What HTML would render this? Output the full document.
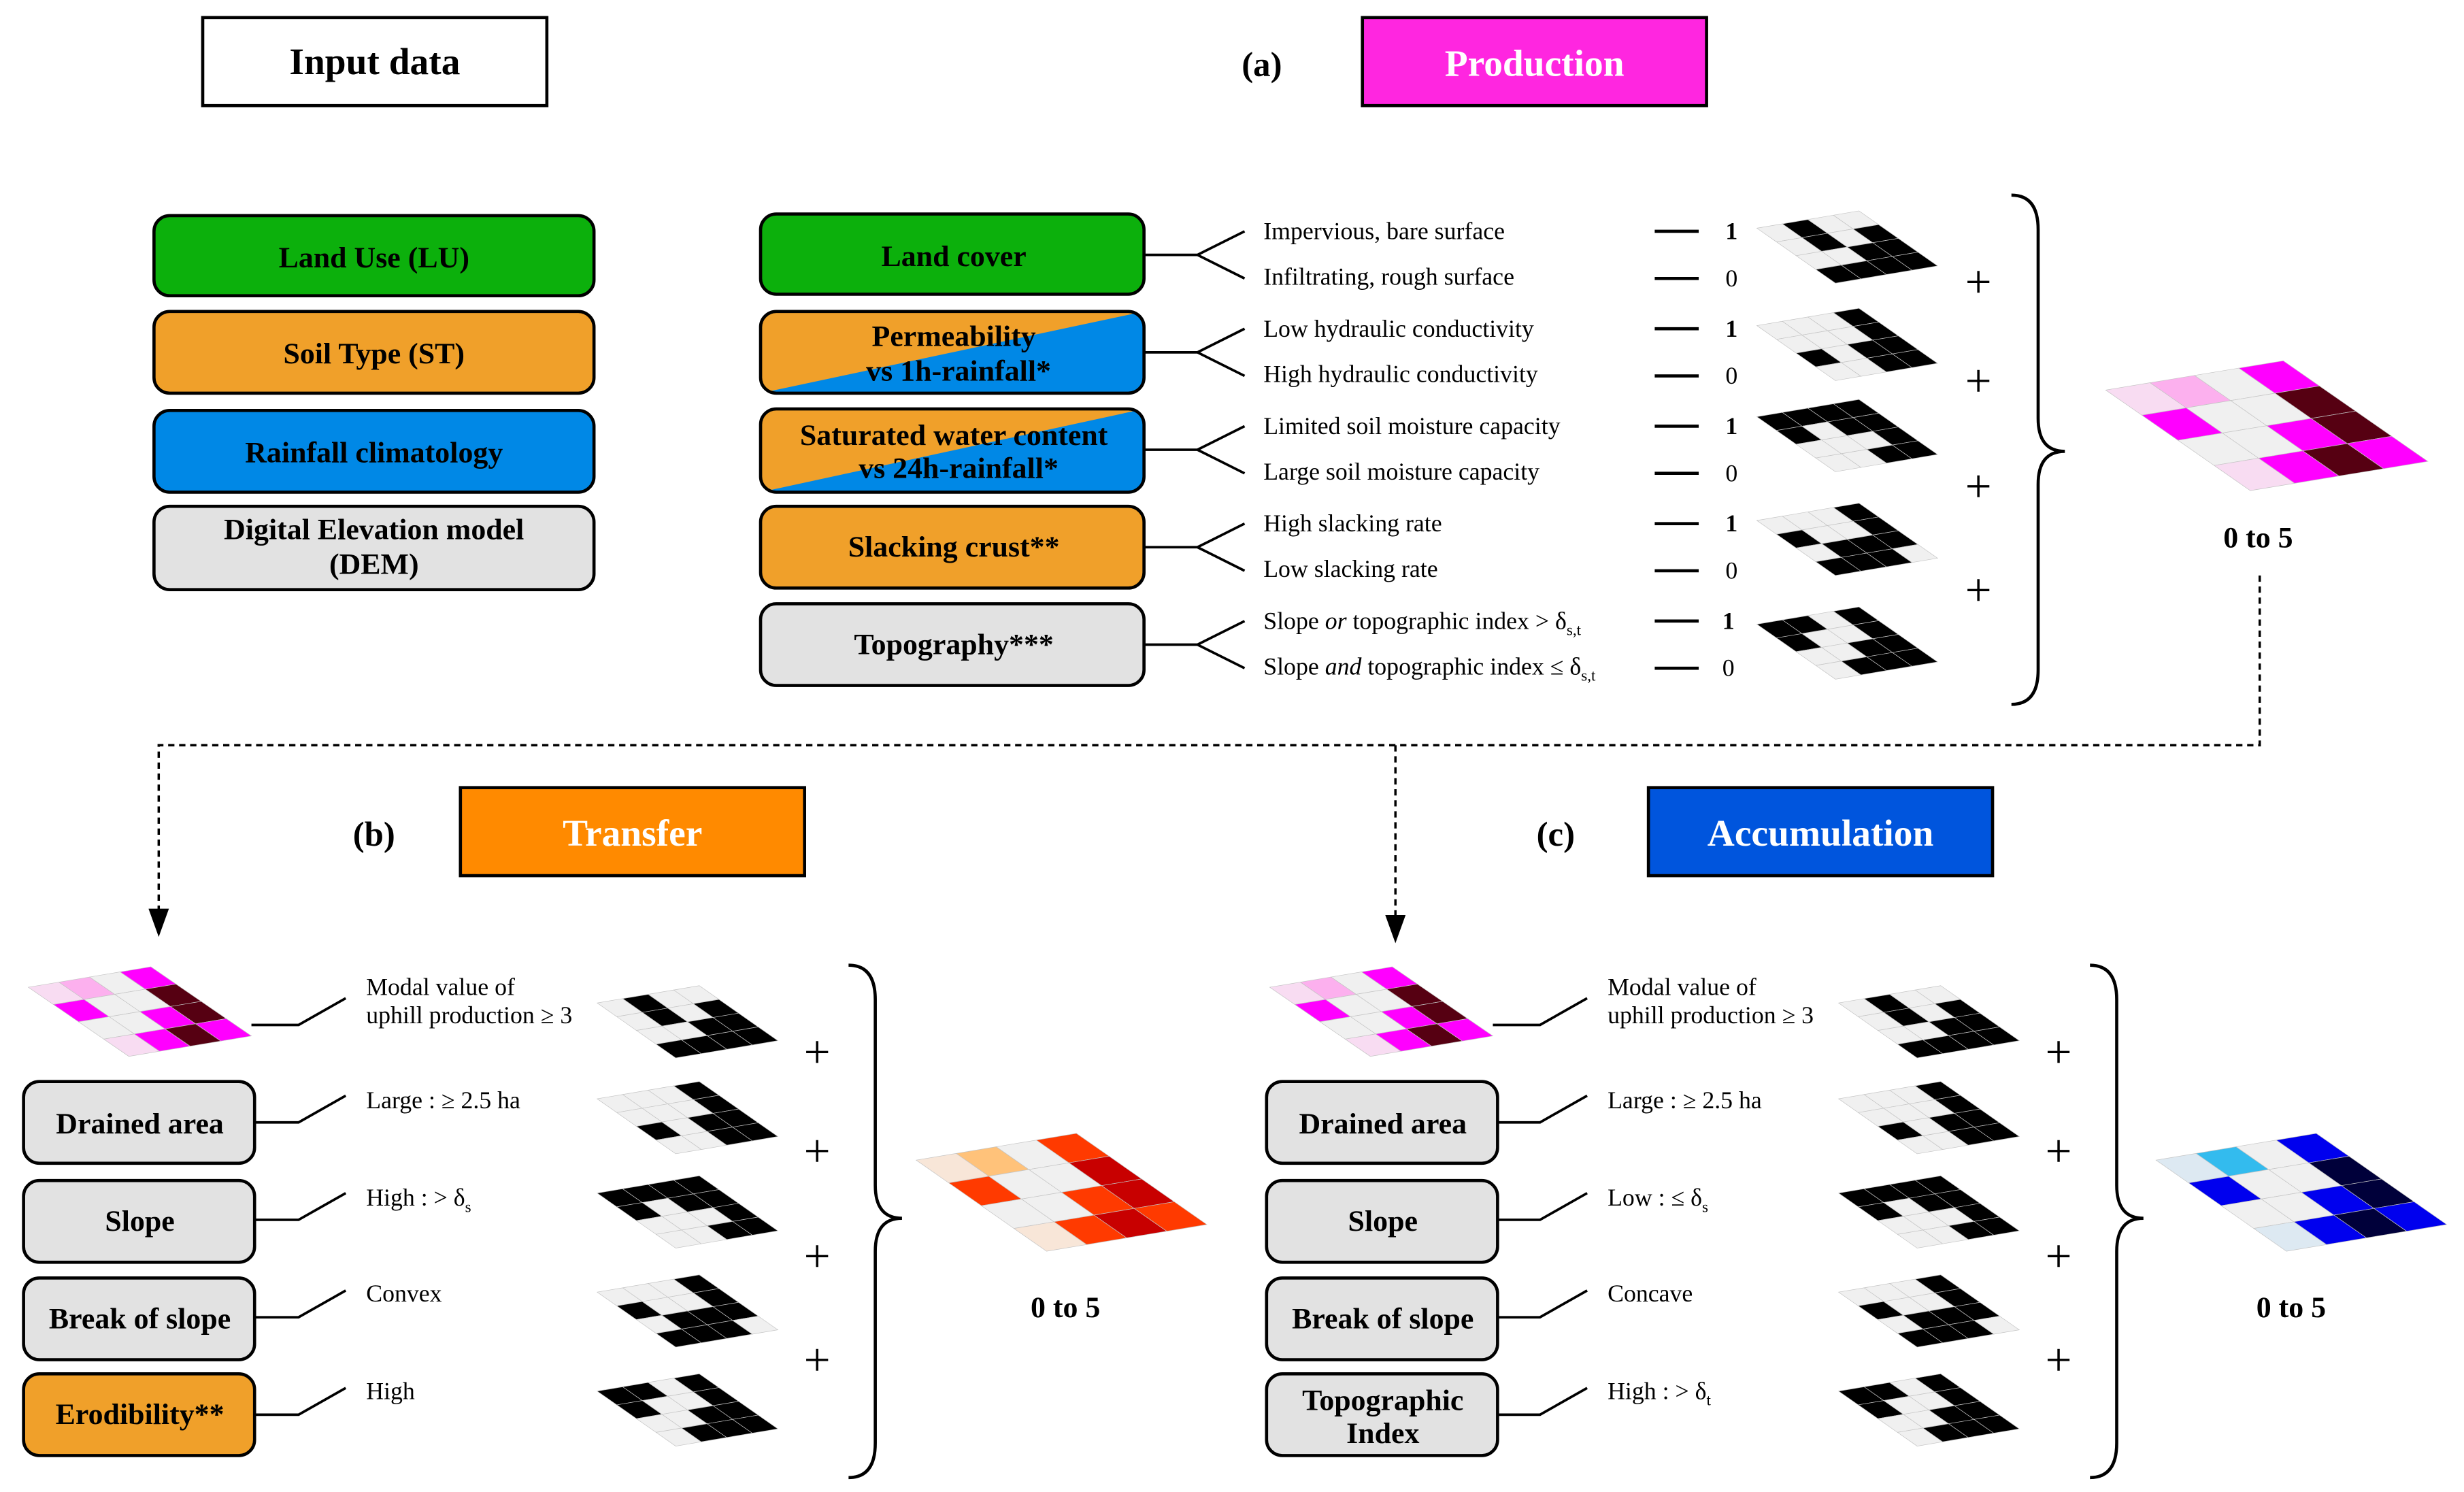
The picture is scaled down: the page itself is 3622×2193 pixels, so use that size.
<!DOCTYPE html>
<html><head><meta charset="utf-8"><style>
html,body{margin:0;padding:0;background:#fff}
svg{display:block}
svg, text, tspan{font-family:"Liberation Serif","Times New Roman",serif}
text{fill:#000}
.b{font-weight:bold}
.d{font-size:15.5px}
.bl{font-size:19px;font-weight:bold}
.t{font-size:24px;font-weight:bold}
.cell rect{stroke:#c4c4c4;stroke-width:0.7;vector-effect:non-scaling-stroke}
</style></head><body>
<svg width="3622" height="2193" viewBox="0 0 1568 949" xmlns="http://www.w3.org/2000/svg" font-family="Liberation Serif, serif">
<defs>
<g id="A" class="cell">
<rect x="0" y="0" width="1" height="1" fill="#f0f0f0"/><rect x="1" y="0" width="1" height="1" fill="#000"/><rect x="2" y="0" width="1" height="1" fill="#f0f0f0"/><rect x="3" y="0" width="1" height="1" fill="#f0f0f0"/>
<rect x="0" y="1" width="1" height="1" fill="#f0f0f0"/><rect x="1" y="1" width="1" height="1" fill="#000"/><rect x="2" y="1" width="1" height="1" fill="#f0f0f0"/><rect x="3" y="1" width="1" height="1" fill="#000"/>
<rect x="0" y="2" width="1" height="1" fill="#f0f0f0"/><rect x="1" y="2" width="1" height="1" fill="#f0f0f0"/><rect x="2" y="2" width="1" height="1" fill="#000"/><rect x="3" y="2" width="1" height="1" fill="#000"/>
<rect x="0" y="3" width="1" height="1" fill="#000"/><rect x="1" y="3" width="1" height="1" fill="#000"/><rect x="2" y="3" width="1" height="1" fill="#000"/><rect x="3" y="3" width="1" height="1" fill="#000"/>
</g>
<g id="B" class="cell">
<rect x="0" y="0" width="1" height="1" fill="#f0f0f0"/><rect x="1" y="0" width="1" height="1" fill="#f0f0f0"/><rect x="2" y="0" width="1" height="1" fill="#f0f0f0"/><rect x="3" y="0" width="1" height="1" fill="#000"/>
<rect x="0" y="1" width="1" height="1" fill="#f0f0f0"/><rect x="1" y="1" width="1" height="1" fill="#f0f0f0"/><rect x="2" y="1" width="1" height="1" fill="#f0f0f0"/><rect x="3" y="1" width="1" height="1" fill="#000"/>
<rect x="0" y="2" width="1" height="1" fill="#000"/><rect x="1" y="2" width="1" height="1" fill="#f0f0f0"/><rect x="2" y="2" width="1" height="1" fill="#000"/><rect x="3" y="2" width="1" height="1" fill="#000"/>
<rect x="0" y="3" width="1" height="1" fill="#f0f0f0"/><rect x="1" y="3" width="1" height="1" fill="#f0f0f0"/><rect x="2" y="3" width="1" height="1" fill="#000"/><rect x="3" y="3" width="1" height="1" fill="#000"/>
</g>
<g id="C" class="cell">
<rect x="0" y="0" width="1" height="1" fill="#000"/><rect x="1" y="0" width="1" height="1" fill="#000"/><rect x="2" y="0" width="1" height="1" fill="#000"/><rect x="3" y="0" width="1" height="1" fill="#000"/>
<rect x="0" y="1" width="1" height="1" fill="#000"/><rect x="1" y="1" width="1" height="1" fill="#f0f0f0"/><rect x="2" y="1" width="1" height="1" fill="#000"/><rect x="3" y="1" width="1" height="1" fill="#000"/>
<rect x="0" y="2" width="1" height="1" fill="#f0f0f0"/><rect x="1" y="2" width="1" height="1" fill="#f0f0f0"/><rect x="2" y="2" width="1" height="1" fill="#f0f0f0"/><rect x="3" y="2" width="1" height="1" fill="#000"/>
<rect x="0" y="3" width="1" height="1" fill="#f0f0f0"/><rect x="1" y="3" width="1" height="1" fill="#f0f0f0"/><rect x="2" y="3" width="1" height="1" fill="#000"/><rect x="3" y="3" width="1" height="1" fill="#000"/>
</g>
<g id="D" class="cell">
<rect x="0" y="0" width="1" height="1" fill="#f0f0f0"/><rect x="1" y="0" width="1" height="1" fill="#f0f0f0"/><rect x="2" y="0" width="1" height="1" fill="#f0f0f0"/><rect x="3" y="0" width="1" height="1" fill="#000"/>
<rect x="0" y="1" width="1" height="1" fill="#000"/><rect x="1" y="1" width="1" height="1" fill="#f0f0f0"/><rect x="2" y="1" width="1" height="1" fill="#f0f0f0"/><rect x="3" y="1" width="1" height="1" fill="#000"/>
<rect x="0" y="2" width="1" height="1" fill="#f0f0f0"/><rect x="1" y="2" width="1" height="1" fill="#000"/><rect x="2" y="2" width="1" height="1" fill="#000"/><rect x="3" y="2" width="1" height="1" fill="#000"/>
<rect x="0" y="3" width="1" height="1" fill="#000"/><rect x="1" y="3" width="1" height="1" fill="#000"/><rect x="2" y="3" width="1" height="1" fill="#000"/><rect x="3" y="3" width="1" height="1" fill="#f0f0f0"/>
</g>
<g id="E" class="cell">
<rect x="0" y="0" width="1" height="1" fill="#000"/><rect x="1" y="0" width="1" height="1" fill="#000"/><rect x="2" y="0" width="1" height="1" fill="#f0f0f0"/><rect x="3" y="0" width="1" height="1" fill="#000"/>
<rect x="0" y="1" width="1" height="1" fill="#000"/><rect x="1" y="1" width="1" height="1" fill="#f0f0f0"/><rect x="2" y="1" width="1" height="1" fill="#f0f0f0"/><rect x="3" y="1" width="1" height="1" fill="#000"/>
<rect x="0" y="2" width="1" height="1" fill="#f0f0f0"/><rect x="1" y="2" width="1" height="1" fill="#f0f0f0"/><rect x="2" y="2" width="1" height="1" fill="#000"/><rect x="3" y="2" width="1" height="1" fill="#000"/>
<rect x="0" y="3" width="1" height="1" fill="#f0f0f0"/><rect x="1" y="3" width="1" height="1" fill="#000"/><rect x="2" y="3" width="1" height="1" fill="#000"/><rect x="3" y="3" width="1" height="1" fill="#000"/>
</g>
<g id="M" class="cell">
<rect x="0" y="0" width="1" height="1" fill="var(--c0)"/><rect x="1" y="0" width="1" height="1" fill="var(--c1)"/><rect x="2" y="0" width="1" height="1" fill="#f0f0f0"/><rect x="3" y="0" width="1" height="1" fill="var(--c3)"/>
<rect x="0" y="1" width="1" height="1" fill="var(--c3)"/><rect x="1" y="1" width="1" height="1" fill="#f0f0f0"/><rect x="2" y="1" width="1" height="1" fill="#f0f0f0"/><rect x="3" y="1" width="1" height="1" fill="var(--c4)"/>
<rect x="0" y="2" width="1" height="1" fill="#f0f0f0"/><rect x="1" y="2" width="1" height="1" fill="#f0f0f0"/><rect x="2" y="2" width="1" height="1" fill="var(--c3)"/><rect x="3" y="2" width="1" height="1" fill="var(--c4)"/>
<rect x="0" y="3" width="1" height="1" fill="var(--c0)"/><rect x="1" y="3" width="1" height="1" fill="var(--c3)"/><rect x="2" y="3" width="1" height="1" fill="var(--c4)"/><rect x="3" y="3" width="1" height="1" fill="var(--c3)"/>
</g>
<clipPath id="cp1"><rect x="484" y="198" width="244" height="52" rx="10"/></clipPath>
<clipPath id="cp2"><rect x="484" y="260" width="244" height="53" rx="10"/></clipPath>
<marker id="ar" viewBox="0 0 10 10" refX="10" refY="5" markerWidth="18" markerHeight="13" markerUnits="userSpaceOnUse" preserveAspectRatio="none" orient="auto"><path d="M0,0 L10,5 L0,10 z" fill="#000"/></marker>
</defs>

<rect x="129" y="11" width="219" height="56" fill="#fff" stroke="#000" stroke-width="2"/>
<text x="238.5" y="47" class="t" text-anchor="middle">Input data</text>
<text x="803" y="48" class="t" text-anchor="middle" style="font-size:22px">(a)</text>
<rect x="867" y="11" width="219" height="56" fill="#ff26e0" stroke="#000" stroke-width="2"/>
<text x="976.5" y="48" class="t" text-anchor="middle" style="fill:#fff">Production</text>

<g stroke="#000" stroke-width="2">
<rect x="98" y="137" width="280" height="51" rx="10" fill="#0cb00c"/>
<rect x="98" y="198" width="280" height="52" rx="10" fill="#f0a02a"/>
<rect x="98" y="261" width="280" height="52" rx="10" fill="#0088e6"/>
<rect x="98" y="322" width="280" height="53" rx="10" fill="#e2e2e2"/>
</g>
<text x="238" y="170" class="bl" text-anchor="middle">Land Use (LU)</text>
<text x="238" y="231" class="bl" text-anchor="middle">Soil Type (ST)</text>
<text x="238" y="294" class="bl" text-anchor="middle">Rainfall climatology</text>
<text x="238" y="343" class="bl" text-anchor="middle">Digital Elevation model</text>
<text x="238" y="365" class="bl" text-anchor="middle">(DEM)</text>

<rect x="484" y="136" width="244" height="51" rx="10" fill="#0cb00c" stroke="#000" stroke-width="2"/>
<g clip-path="url(#cp1)"><rect x="484" y="198" width="244" height="52" fill="#f0a02a"/><polygon points="484,250 728,198 728,250" fill="#0088e6"/></g>
<rect x="484" y="198" width="244" height="52" rx="10" fill="none" stroke="#000" stroke-width="2"/>
<g clip-path="url(#cp2)"><rect x="484" y="260" width="244" height="53" fill="#f0a02a"/><polygon points="484,313 728,260 728,313" fill="#0088e6"/></g>
<rect x="484" y="260" width="244" height="53" rx="10" fill="none" stroke="#000" stroke-width="2"/>
<rect x="484" y="322" width="244" height="52" rx="10" fill="#f0a02a" stroke="#000" stroke-width="2"/>
<rect x="484" y="384" width="244" height="52" rx="10" fill="#e2e2e2" stroke="#000" stroke-width="2"/>
<text x="607" y="169" class="bl" text-anchor="middle">Land cover</text>
<text x="607" y="220" class="bl" text-anchor="middle">Permeability</text>
<text x="610" y="242" class="bl" text-anchor="middle">vs 1h-rainfall*</text>
<text x="607" y="283" class="bl" text-anchor="middle">Saturated water content</text>
<text x="610" y="304" class="bl" text-anchor="middle">vs 24h-rainfall*</text>
<text x="607" y="354" class="bl" text-anchor="middle">Slacking crust**</text>
<text x="607" y="416" class="bl" text-anchor="middle">Topography***</text>

<g fill="none" stroke="#000" stroke-width="1.6">
<path d="M728,162 H762 L792,147 M762,162 L792,177"/>
<path d="M728,224 H762 L792,209 M762,224 L792,239"/>
<path d="M728,286 H762 L792,271 M762,286 L792,301"/>
<path d="M728,348 H762 L792,333 M762,348 L792,363"/>
<path d="M728,410 H762 L792,395 M762,410 L792,425"/>
<path d="M1053,147 H1081 M1053,177 H1081 M1053,209 H1081 M1053,239 H1081 M1053,271 H1081 M1053,301 H1081 M1053,333 H1081 M1053,363 H1081 M1053,395 H1081 M1053,425 H1081" stroke-width="2"/>
</g>
<g class="d">
<text x="804" y="152">Impervious, bare surface</text>
<text x="804" y="181">Infiltrating, rough surface</text>
<text x="804" y="214">Low hydraulic conductivity</text>
<text x="804" y="243">High hydraulic conductivity</text>
<text x="804" y="276">Limited soil moisture capacity</text>
<text x="804" y="305">Large soil moisture capacity</text>
<text x="804" y="338">High slacking rate</text>
<text x="804" y="367">Low slacking rate</text>
<text x="804" y="400">Slope <tspan font-style="italic">or</tspan> topographic index &gt; δ<tspan font-size="10" dy="4">s,t</tspan></text>
<text x="804" y="429">Slope <tspan font-style="italic">and</tspan> topographic index ≤ δ<tspan font-size="10" dy="4">s,t</tspan></text>
</g>
<g class="d">
<text x="1098" y="152" class="b">1</text><text x="1098" y="182">0</text>
<text x="1098" y="214" class="b">1</text><text x="1098" y="244">0</text>
<text x="1098" y="276" class="b">1</text><text x="1098" y="306">0</text>
<text x="1098" y="338" class="b">1</text><text x="1098" y="368">0</text>
<text x="1096" y="400" class="b">1</text><text x="1096" y="430">0</text>
</g>
<use href="#A" transform="matrix(16.25 -2.75 12.5 8.75 1118 145)"/>
<use href="#B" transform="matrix(16.25 -2.75 12.5 8.75 1118 207)"/>
<use href="#C" transform="matrix(16.25 -2.75 12.5 8.75 1118 265)"/>
<use href="#D" transform="matrix(16.25 -2.75 12.5 8.75 1118 331)"/>
<use href="#E" transform="matrix(16.25 -2.75 12.5 8.75 1118 397)"/>
<g font-size="30" text-anchor="middle">
<text x="1259" y="189">+</text>
<text x="1259" y="252">+</text>
<text x="1259" y="319">+</text>
<text x="1259" y="385">+</text>
</g>
<path d="M1280,124 Q1297,124 1297,146 L1297,266 Q1297,287 1314,287 Q1297,287 1297,308 L1297,426 Q1297,448 1280,448" fill="none" stroke="#000" stroke-width="2"/>
<use href="#M" transform="matrix(28.25 -4.65 23 16 1340 248)" style="--c0:#f8dcf2;--c1:#fcb0ee;--c3:#ff00ff;--c4:#560012"/>
<text x="1437" y="348" class="bl" text-anchor="middle">0 to 5</text>

<g fill="none" stroke="#000" stroke-width="1.5" stroke-dasharray="4,3">
<path d="M1438,366 V474 H101 V596" marker-end="url(#ar)"/>
<path d="M888,474 V600" marker-end="url(#ar)"/>
</g>

<text x="238" y="538" class="t" text-anchor="middle" style="font-size:22px">(b)</text>
<rect x="293" y="501" width="219" height="56" fill="#ff8a00" stroke="#000" stroke-width="2"/>
<text x="402.5" y="538" class="t" text-anchor="middle" style="fill:#fff">Transfer</text>
<text x="990" y="538" class="t" text-anchor="middle" style="font-size:22px">(c)</text>
<rect x="1049" y="501" width="219" height="56" fill="#0055dd" stroke="#000" stroke-width="2"/>
<text x="1158.5" y="538" class="t" text-anchor="middle" style="fill:#fff">Accumulation</text>

<g id="sec">
<use href="#M" transform="matrix(19.5 -3.25 16 11 18 628)" style="--c0:#f8dcf2;--c1:#fcb0ee;--c3:#ff00ff;--c4:#560012"/>
<g fill="none" stroke="#000" stroke-width="1.6">
<path d="M160,652 H190 L220,635"/>
<path d="M162,714 H190 L220,697"/>
<path d="M162,776 H190 L220,759"/>
<path d="M162,838 H190 L220,821"/>
<path d="M162,900 H190 L220,883"/>
</g>
<use href="#A" transform="matrix(16.25 -2.75 12.5 8.75 380 638)"/>
<use href="#B" transform="matrix(16.25 -2.75 12.5 8.75 380 699)"/>
<use href="#C" transform="matrix(16.25 -2.75 12.5 8.75 380 759)"/>
<use href="#D" transform="matrix(16.25 -2.75 12.5 8.75 380 822)"/>
<use href="#E" transform="matrix(16.25 -2.75 12.5 8.75 380 885)"/>
<text x="520" y="679" font-size="30" text-anchor="middle">+</text>
<text x="520" y="742" font-size="30" text-anchor="middle">+</text>
<text x="520" y="809" font-size="30" text-anchor="middle">+</text>
<text x="520" y="875" font-size="30" text-anchor="middle">+</text>
<path d="M540,614 Q557,614 557,636 L557,754 Q557,775 574,775 Q557,775 557,796 L557,918 Q557,940 540,940" fill="none" stroke="#000" stroke-width="2"/>
<text x="233" y="633" class="d">Modal value of</text>
<text x="233" y="651" class="d">uphill production ≥ 3</text>
</g>
<g stroke="#000" stroke-width="2">
<rect x="15" y="688" width="147" height="52" rx="10" fill="#e2e2e2"/>
<rect x="15" y="751" width="147" height="52" rx="10" fill="#e2e2e2"/>
<rect x="15" y="813" width="147" height="52" rx="10" fill="#e2e2e2"/>
<rect x="15" y="874" width="147" height="52" rx="10" fill="#f0a02a"/>
</g>
<text x="89" y="721" class="bl" text-anchor="middle">Drained area</text>
<text x="89" y="783" class="bl" text-anchor="middle">Slope</text>
<text x="89" y="845" class="bl" text-anchor="middle">Break of slope</text>
<text x="89" y="906" class="bl" text-anchor="middle">Erodibility**</text>
<g class="d">
<text x="233" y="705">Large : ≥ 2.5 ha</text>
<text x="233" y="767">High : &gt; δ<tspan font-size="10" dy="4">s</tspan></text>
<text x="233" y="828">Convex</text>
<text x="233" y="890">High</text>
</g>
<use href="#M" transform="matrix(25.5 -4.25 20.75 14.5 583 738)" style="--c0:#f8e6d8;--c1:#ffc27a;--c3:#ff3a00;--c4:#c80000"/>
<text x="678" y="838" class="bl" text-anchor="middle">0 to 5</text>

<use href="#sec" transform="translate(790,0)"/>
<g stroke="#000" stroke-width="2">
<rect x="806" y="688" width="147" height="52" rx="10" fill="#e2e2e2"/>
<rect x="806" y="751" width="147" height="52" rx="10" fill="#e2e2e2"/>
<rect x="806" y="813" width="147" height="52" rx="10" fill="#e2e2e2"/>
<rect x="806" y="874" width="147" height="52" rx="10" fill="#e2e2e2"/>
</g>
<text x="880" y="721" class="bl" text-anchor="middle">Drained area</text>
<text x="880" y="783" class="bl" text-anchor="middle">Slope</text>
<text x="880" y="845" class="bl" text-anchor="middle">Break of slope</text>
<text x="880" y="897" class="bl" text-anchor="middle">Topographic</text>
<text x="880" y="918" class="bl" text-anchor="middle">Index</text>
<g class="d">
<text x="1023" y="705">Large : ≥ 2.5 ha</text>
<text x="1023" y="767">Low : ≤ δ<tspan font-size="10" dy="4">s</tspan></text>
<text x="1023" y="828">Concave</text>
<text x="1023" y="890">High : &gt; δ<tspan font-size="10" dy="4">t</tspan></text>
</g>
<use href="#M" transform="matrix(25.5 -4.25 20.75 14.5 1372 738)" style="--c0:#dde9f2;--c1:#33bbee;--c3:#0000ee;--c4:#00003a"/>
<text x="1458" y="838" class="bl" text-anchor="middle">0 to 5</text>
</svg>
</body></html>
